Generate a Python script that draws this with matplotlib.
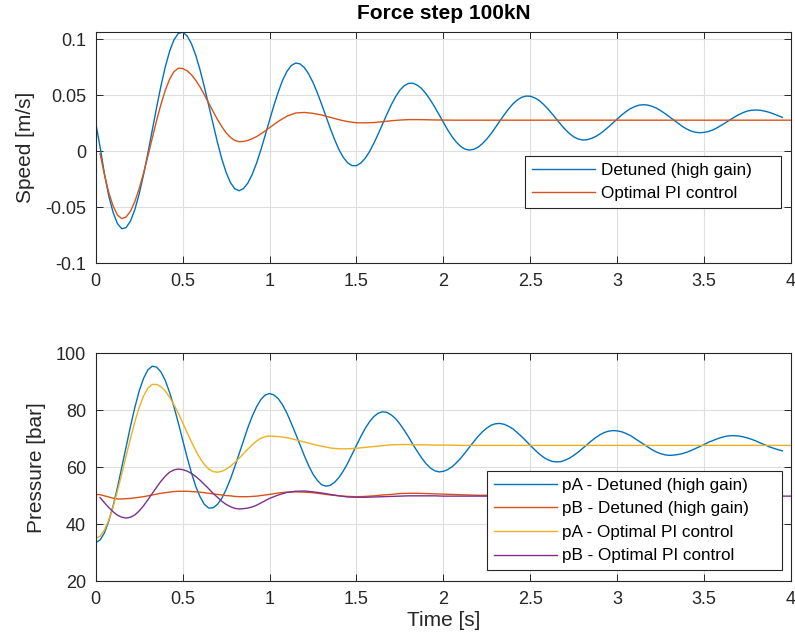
import numpy as np
import matplotlib

matplotlib.use("Agg")
import matplotlib.pyplot as plt

# --- sample times (s) ---
T_FINE = np.round(np.arange(0, 3.95 + 1e-9, 0.025), 3)          # oscillating "detuned" signals
T_HEAD = np.round(np.arange(0, 1.0 + 1e-9, 0.025), 3)
T_DET = np.concatenate([T_HEAD, np.round(np.arange(1.05, 3.95 + 1e-9, 0.05), 3)])
T_OPT = np.concatenate([T_HEAD, np.round(np.arange(1.05, 4.0 + 1e-9, 0.05), 3)])

# --- speed [m/s] ---
SPEED_DET = [  # on T_FINE
    0.0253, 0.0040, -0.0200, -0.0399, -0.0546, -0.0646, -0.0692, -0.0681, -0.0623, -0.0521,
    -0.0381, -0.0210, -0.0017, 0.0186, 0.0389, 0.0582, 0.0753, 0.0893, 0.0995, 0.1053,
    0.1063, 0.1032, 0.0963, 0.0860, 0.0728, 0.0575, 0.0410, 0.0242, 0.0081, -0.0066,
    -0.0188, -0.0279, -0.0335, -0.0352, -0.0333, -0.0284, -0.0207, -0.0107, 0.0013, 0.0143,
    0.0278,
    0.0409, 0.0529, 0.0634, 0.0713, 0.0766, 0.0788, 0.0781, 0.0748, 0.0691, 0.0615,
    0.0522, 0.0418, 0.0310, 0.0202, 0.0102, 0.0013, -0.0056, -0.0104, -0.0128, -0.0128,
    -0.0105, -0.0063, -0.0003, 0.0071, 0.0155, 0.0243, 0.0331, 0.0414, 0.0487, 0.0546,
    0.0586, 0.0607, 0.0608, 0.0591, 0.0560, 0.0515, 0.0459, 0.0396, 0.0327, 0.0258,
    0.0191, 0.0131, 0.0081, 0.0043, 0.0019, 0.0011, 0.0018, 0.0037, 0.0069, 0.0110,
    0.0159, 0.0214, 0.0271, 0.0326, 0.0378, 0.0423, 0.0458, 0.0482, 0.0493, 0.0492,
    0.0478, 0.0455, 0.0421, 0.0381, 0.0336, 0.0288, 0.0241, 0.0197, 0.0159, 0.0129,
    0.0110, 0.0101, 0.0103, 0.0114, 0.0131, 0.0155, 0.0185, 0.0218, 0.0253, 0.0289,
    0.0323, 0.0354, 0.0380, 0.0399, 0.0412, 0.0416, 0.0413, 0.0402, 0.0386, 0.0363,
    0.0337, 0.0308, 0.0278, 0.0249, 0.0222, 0.0199, 0.0181, 0.0170, 0.0166, 0.0169,
    0.0177, 0.0191, 0.0210, 0.0233, 0.0257, 0.0282, 0.0306, 0.0328, 0.0346, 0.0360,
    0.0367, 0.0369, 0.0366, 0.0358, 0.0348, 0.0334, 0.0318, 0.0303,
]
SPEED_OPT = [  # on T_OPT
    np.nan, -0.0020, -0.0208, -0.0368, -0.0489, -0.0569, -0.0601, -0.0586, -0.0535, -0.0449,
    -0.0334, -0.0196, -0.0043, 0.0116, 0.0273, 0.0418, 0.0544, 0.0644, 0.0711, 0.0742,
    0.0740, 0.0720, 0.0685, 0.0635, 0.0575, 0.0505, 0.0431, 0.0357, 0.0285, 0.0221,
    0.0166, 0.0124, 0.0097, 0.0086, 0.0088, 0.0097, 0.0112, 0.0131, 0.0155, 0.0182,
    0.0211,
    0.0267, 0.0314, 0.0342, 0.0347, 0.0339, 0.0324, 0.0303, 0.0282, 0.0265, 0.0255,
    0.0254, 0.0257, 0.0264, 0.0273, 0.0279, 0.0283, 0.0283, 0.0282, 0.0280,
    0.0279, 0.0278, 0.0278, 0.0278, 0.0278, 0.0278, 0.0278, 0.0278, 0.0278, 0.0278,
    0.0278, 0.0278, 0.0278, 0.0278, 0.0278, 0.0278, 0.0278, 0.0278, 0.0278, 0.0278,
    0.0278, 0.0278, 0.0278, 0.0278, 0.0278, 0.0278, 0.0278, 0.0278, 0.0278, 0.0278,
    0.0278, 0.0278, 0.0278, 0.0278, 0.0278, 0.0278, 0.0278, 0.0278, 0.0278, 0.0278,
    0.0278,
]

# --- pressures [bar] ---
PA_DET = [  # on T_FINE
    33.6, 34.5, 37.0, 41.1, 46.5, 52.9, 60.0, 67.2, 74.4, 81.0,
    86.8, 91.2, 94.2, 95.5, 95.2, 93.5, 90.5, 86.3, 81.3, 75.6,
    69.7, 63.7, 58.2, 53.4, 49.7, 47.0, 45.7, 45.8, 47.0, 49.1,
    52.2, 55.9, 60.2, 64.8, 69.5, 73.9, 77.9, 81.2, 83.8, 85.4,
    85.9,
    85.4, 84.1, 81.9, 79.0, 75.5, 71.8, 67.9, 64.1, 60.6, 57.6,
    55.4, 53.9, 53.4, 53.7, 54.8, 56.5, 58.8, 61.5, 64.6, 67.7,
    70.8, 73.6, 76.0, 77.8, 79.0, 79.5, 79.3, 78.4, 77.1, 75.2,
    73.0, 70.6, 68.0, 65.6, 63.3, 61.3, 59.8, 58.8, 58.4, 58.6,
    59.2, 60.2, 61.6, 63.2, 65.1, 67.1, 69.0, 70.9, 72.5, 73.8,
    74.8, 75.3, 75.4, 75.1, 74.4, 73.5, 72.2, 70.8, 69.3, 67.7,
    66.2, 64.8, 63.6, 62.7, 62.1, 61.9, 62.0, 62.5, 63.2, 64.2,
    65.3, 66.6, 67.9, 69.2, 70.4, 71.4, 72.2, 72.7, 72.9, 72.8,
    72.5, 71.9, 71.2, 70.2, 69.2, 68.2, 67.2, 66.2, 65.4, 64.8,
    64.4, 64.2, 64.3, 64.5, 64.8, 65.3, 65.9, 66.6, 67.3, 68.0,
    68.8, 69.4, 70.0, 70.5, 70.9, 71.1, 71.1, 71.0, 70.7, 70.3,
    69.8, 69.2, 68.5, 67.9, 67.2, 66.7, 66.2, 65.8,
]
PB_DET = [  # on T_DET
    50.5, 50.4, 50.0, 49.6, 49.2, 48.9, 48.9, 49.0, 49.1, 49.3,
    49.5, 49.7, 50.0, 50.3, 50.6, 50.9, 51.1, 51.3, 51.5, 51.6,
    51.6, 51.6, 51.5, 51.4, 51.3, 51.1, 50.9, 50.7, 50.5, 50.3,
    50.1, 50.0, 49.8, 49.7, 49.7, 49.7, 49.8, 49.9, 50.1, 50.3,
    50.5,
    51.0, 51.3, 51.4, 51.3, 51.1, 50.7, 50.3, 50.0, 49.8, 49.7,
    49.8, 50.0, 50.3, 50.5, 50.8, 50.9, 50.9, 50.8, 50.7,
    50.6, 50.5, 50.4, 50.3, 50.2, 50.2, 50.2, 50.2, 50.3, 50.3,
    50.3, 50.3, 50.3, 50.2, 50.2, 50.2, 50.2, 50.3, 50.3, 50.3,
    50.3, 50.3, 50.2, 50.2, 50.2, 50.2, 50.3, 50.3, 50.3, 50.3,
    50.2, 50.2, 50.2, 50.2, 50.3, 50.3, 50.3, 50.2, 50.2, 50.2,
]
PA_OPT = [  # on T_OPT
    35.1, 35.8, 38.0, 41.5, 46.1, 51.7, 57.7, 64.0, 70.2, 76.0,
    81.0, 85.0, 87.8, 89.1, 89.1, 88.3, 86.8, 84.6, 82.0, 79.0,
    75.7, 72.3, 69.0, 65.9, 63.2, 61.0, 59.4, 58.5, 58.3, 58.6,
    59.3, 60.4, 61.7, 63.2, 64.8, 66.4, 67.9, 69.2, 70.2, 70.8,
    71.0,
    70.8, 70.4, 69.7, 68.9, 68.1, 67.4, 66.8, 66.5, 66.5, 66.7,
    67.0, 67.3, 67.6, 67.9, 68.0, 68.0, 67.9, 67.9, 67.8,
    67.8, 67.8, 67.7, 67.7, 67.7, 67.7, 67.7, 67.7, 67.7, 67.7,
    67.7, 67.7, 67.7, 67.7, 67.7, 67.7, 67.7, 67.7, 67.7, 67.7,
    67.7, 67.7, 67.7, 67.7, 67.7, 67.7, 67.7, 67.7, 67.7, 67.7,
    67.7, 67.7, 67.7, 67.7, 67.7, 67.7, 67.7, 67.7, 67.7, 67.7,
    67.7,
]
PB_OPT = [  # on T_OPT
    np.nan, 49.4, 47.6, 45.9, 44.4, 43.2, 42.5, 42.2, 42.5, 43.3,
    44.7, 46.5, 48.6, 50.8, 53.0, 55.1, 56.9, 58.3, 59.1, 59.4,
    59.2, 58.7, 57.9, 56.8, 55.5, 54.0, 52.5, 50.9, 49.5, 48.1,
    47.0, 46.2, 45.6, 45.4, 45.5, 45.7, 46.1, 46.7, 47.5, 48.3,
    49.1,
    50.3, 51.2, 51.6, 51.7, 51.4, 51.0, 50.5, 50.0, 49.6, 49.5,
    49.5, 49.6, 49.7, 49.8, 49.9, 50.0, 50.0, 50.0, 50.0,
    49.9, 49.9, 49.9, 49.9, 49.9, 49.9, 49.9, 49.9, 49.9, 49.9,
    49.9, 49.9, 49.9, 49.9, 49.9, 49.9, 49.9, 49.9, 49.9, 49.9,
    49.9, 49.9, 49.9, 49.9, 49.9, 49.9, 49.9, 49.9, 49.9, 49.9,
    49.9, 49.9, 49.9, 49.9, 49.9, 49.9, 49.9, 49.9, 49.9, 49.9,
    49.9,
]

X_TICKS = [0, 0.5, 1, 1.5, 2, 2.5, 3, 3.5, 4]
X_LABELS = ["0", "0.5", "1", "1.5", "2", "2.5", "3", "3.5", "4"]
SPEED_TICKS = [-0.1, -0.05, 0, 0.05, 0.1]
SPEED_LABELS = ["-0.1", "-0.05", "0", "0.05", "0.1"]
P_TICKS = [20, 40, 60, 80, 100]
P_LABELS = ["20", "40", "60", "80", "100"]

# MATLAB default colour order
C1, C2, C3, C4 = "#0072BD", "#D95319", "#EDB120", "#7E2F8E"
AXC = "#262626"
GRID = "#dedede"

plt.rcParams["font.family"] = ["Liberation Sans", "DejaVu Sans"]


def style(ax, yticks, ylabels):
    ax.set_xlim(0, 4)
    ax.set_xticks(X_TICKS)
    ax.set_xticklabels(X_LABELS)
    ax.set_yticks(yticks)
    ax.set_yticklabels(ylabels)
    ax.grid(True, color=GRID, linewidth=0.8)
    ax.set_axisbelow(True)
    for s in ax.spines.values():
        s.set_color(AXC)
        s.set_linewidth(0.8)
    ax.tick_params(direction="in", length=5, width=0.7, colors=AXC,
                   labelsize=13, top=True, right=True, pad=7)


def legend(ax, x0, w, top):
    lg = ax.legend(loc="upper left", bbox_to_anchor=(x0, 0, w, top), mode="expand",
                   borderaxespad=0, fontsize=12.3, fancybox=False, framealpha=1,
                   edgecolor=AXC, handlelength=3.7, handletextpad=0.33,
                   borderpad=0.4, labelspacing=0.5)
    lg.get_frame().set_linewidth(0.8)
    for t in lg.get_texts():
        t.set_color("#000000")
    return lg


fig = plt.figure(figsize=(7.95, 6.42), dpi=100)
ax1 = fig.add_axes([0.1204, 0.5899, 0.8746, 0.3607])
ax2 = fig.add_axes([0.1204, 0.0945, 0.8746, 0.3551])

LW = 1.0
ax1.plot(T_FINE, SPEED_DET, color=C1, lw=LW, label="Detuned (high gain)")
ax1.plot(T_OPT, SPEED_OPT, color=C2, lw=LW, label="Optimal PI control")
style(ax1, SPEED_TICKS, SPEED_LABELS)
ax1.set_ylim(-0.1, 0.1068)
ax1.set_ylabel("Speed [m/s]", fontsize=15, color=AXC, labelpad=7)
ax1.set_title("Force step 100kN", fontsize=15, fontweight="bold", pad=9)
legend(ax1, 0.6174, 0.3682, 0.4633)

ax2.plot(T_FINE, PA_DET, color=C1, lw=LW, label="pA - Detuned (high gain)")
ax2.plot(T_DET, PB_DET, color=C2, lw=LW, label="pB - Detuned (high gain)")
ax2.plot(T_OPT, PA_OPT, color=C3, lw=LW, label="pA - Optimal PI control")
ax2.plot(T_OPT, PB_OPT, color=C4, lw=LW, label="pB - Optimal PI control")
style(ax2, P_TICKS, P_LABELS)
ax2.set_ylim(20, 100)
ax2.set_ylabel("Pressure [bar]", fontsize=15, color=AXC, labelpad=7)
ax2.set_xlabel("Time [s]", fontsize=15, color=AXC, labelpad=2)
legend(ax2, 0.5623, 0.4251, 0.4838)

fig.savefig("out.png", dpi=100, facecolor="white")
